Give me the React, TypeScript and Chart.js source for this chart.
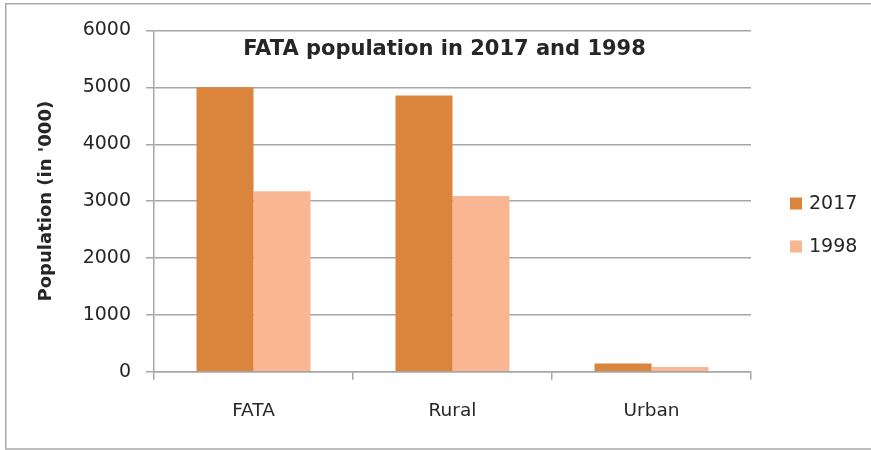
import React, { useEffect, useRef } from "react";
import { Chart, registerables } from "chart.js";

Chart.register(...registerables);

const categories = ["FATA", "Rural", "Urban"];
const seriesNames = ["2017", "1998"];
const values2017 = [5002, 4856, 147];
const values1998 = [3176, 3091, 85];
const yTicks = [0, 1000, 2000, 3000, 4000, 5000, 6000];
const titleText = "FATA population in 2017 and 1998";
const yTitle = "Population (in '000)";

const colors = ["#DA843C", "#F8B692"];
const FONT = "'DejaVu Sans', sans-serif";
const TEXT = "#262626";
const GRID = "#A6A6A6";

const decorPlugin = {
  id: "decor",
  beforeDraw(chart: any) {
    const ctx = chart.ctx;
    const w = chart.width;
    const h = chart.height;
    ctx.save();
    ctx.strokeStyle = "#A9A9A9";
    ctx.lineWidth = 1.5;
    ctx.beginPath();
    ctx.moveTo(w + 10, 3.75);
    ctx.lineTo(5.75, 3.75);
    ctx.lineTo(5.75, h - 1);
    ctx.lineTo(w + 10, h - 1);
    ctx.stroke();
    ctx.restore();
  },
  afterDraw(chart: any) {
    const ctx = chart.ctx;
    const a = chart.chartArea;
    ctx.save();
    ctx.fillStyle = TEXT;
    ctx.font = `bold 21px ${FONT}`;
    ctx.textAlign = "center";
    ctx.textBaseline = "middle";
    ctx.fillText(titleText, (a.left + a.right) / 2 - 8, a.top + 19);
    // legend
    const ds = chart.data.datasets;
    const cy = chart.height / 2;
    ctx.font = `19px ${FONT}`;
    ctx.textAlign = "left";
    ds.forEach((d: any, i: number) => {
      const y = cy + (i - (ds.length - 1) / 2) * 43;
      const x = a.right + 39;
      ctx.fillStyle = d.backgroundColor;
      ctx.fillRect(x, y - 6, 12, 12);
      ctx.fillStyle = TEXT;
      ctx.fillText(d.label, x + 19, y + 1);
    });
    ctx.restore();
  },
};

export default function App() {
  const ref = useRef<HTMLCanvasElement>(null);
  useEffect(() => {
    if (!ref.current) return;
    const chart = new Chart(ref.current, {
      type: "bar",
      data: {
        labels: categories,
        datasets: [
          { label: seriesNames[0], data: values2017, backgroundColor: colors[0] },
          { label: seriesNames[1], data: values1998, backgroundColor: colors[1] },
        ],
      },
      plugins: [decorPlugin],
      options: {
        responsive: false,
        animation: false,
        devicePixelRatio: 1,
        layout: { padding: { top: 30.5, left: 5, right: 120, bottom: 8 } },
        plugins: {
          legend: { display: false },
          tooltip: { enabled: false },
          title: { display: false },
        },
        datasets: { bar: { categoryPercentage: 0.573, barPercentage: 1 } },
        scales: {
          x: {
            grid: {
              display: true,
              drawOnChartArea: false,
              offset: true,
              tickLength: 8,
              color: GRID,
              lineWidth: 1.5,
            },
            border: { display: true, color: GRID, width: 1.5 },
            ticks: { color: TEXT, font: { family: FONT, size: 18.5 }, padding: 20 },
          },
          y: {
            min: 0,
            max: 6000,
            afterBuildTicks: (s: any) => {
              s.ticks = yTicks.map((v) => ({ value: v }));
            },
            afterFit: (s: any) => {
              s.width = 149;
            },
            grid: { color: GRID, lineWidth: 1.5, tickLength: 8 },
            border: { display: true, color: GRID, width: 1.5 },
            ticks: {
              color: TEXT,
              font: { family: FONT, size: 19 },
              padding: 15,
              callback: (v: any) => String(v),
            },
            title: {
              display: true,
              text: yTitle,
              color: TEXT,
              font: { family: FONT, size: 18, weight: "bold" },
              padding: { top: 31, bottom: 0 },
            },
          },
        },
      },
    });
    return () => chart.destroy();
  }, []);
  return (
    <div style={{ position: "fixed", left: 0, top: 0, width: 871, height: 450, background: "#fff" }}>
      <canvas ref={ref} width={871} height={450} style={{ width: 871, height: 450 }} />
    </div>
  );
}
